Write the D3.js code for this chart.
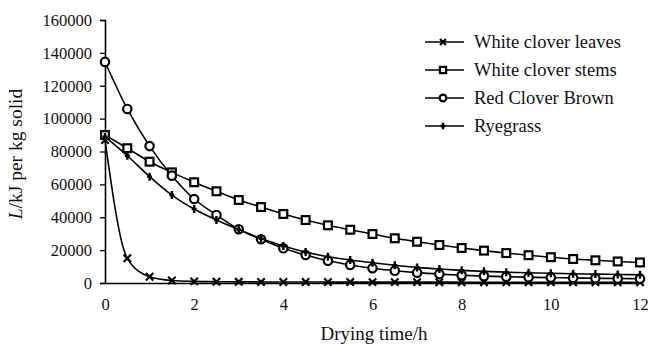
<!DOCTYPE html>
<html>
<head>
<meta charset="utf-8">
<script src="https://cdn.jsdelivr.net/npm/d3@7/dist/d3.min.js"></script>
<style>
  html, body { margin: 0; padding: 0; background: #fff; }
  svg { display: block; }
  svg text { font-family: "Liberation Serif", "Times New Roman", serif; }
</style>
</head>
<body>
<svg id="chart" width="651" height="345"></svg>
<script>
// Drying time (h), sampled every half hour
const hours = [0, 0.5, 1, 1.5, 2, 2.5, 3, 3.5, 4, 4.5, 5, 5.5, 6, 6.5, 7, 7.5, 8, 8.5, 9, 9.5, 10, 10.5, 11, 11.5, 12];

// Latent heat L (kJ per kg solid) for each material
const whiteCloverLeaves = [87000, 15000, 3800, 1500, 1000, 800, 700, 650, 600, 580, 560, 550, 540, 530, 520, 510, 500, 500, 500, 500, 500, 500, 500, 500, 500];
const whiteCloverStems = [90000, 82000, 73800, 67300, 61300, 55800, 50500, 46200, 42000, 38300, 35100, 32400, 29800, 27200, 25100, 23100, 21300, 19700, 18200, 16900, 15700, 14600, 13800, 13100, 12500];
const redCloverBrown = [134500, 105900, 83300, 65300, 51100, 41400, 32700, 26600, 21100, 17000, 13500, 11000, 9000, 7500, 6300, 5400, 4700, 4200, 3800, 3500, 3300, 3100, 2900, 2700, 2600];
const ryegrass = [89000, 77400, 64700, 53500, 45000, 38300, 32500, 27000, 22500, 18800, 16000, 14000, 12300, 10800, 9500, 8500, 7700, 7100, 6600, 6200, 5900, 5600, 5400, 5200, 5000];

const seriesNames = ["White clover leaves", "White clover stems", "Red Clover Brown", "Ryegrass"];
const seriesValues = [whiteCloverLeaves, whiteCloverStems, redCloverBrown, ryegrass];
const seriesMarkers = ["cross", "square", "circle", "plus"];

const xTicks = [0, 2, 4, 6, 8, 10, 12];
const yTicks = [0, 20000, 40000, 60000, 80000, 100000, 120000, 140000, 160000];

const svg = d3.select("#chart");
const x = d3.scaleLinear().domain([0, 12]).range([105, 640]);
const y = d3.scaleLinear().domain([0, 160000]).range([283, 20]);

// Axes
const yAxis = svg.append("g")
  .attr("transform", `translate(${x(0)},0)`)
  .call(d3.axisLeft(y).tickValues(yTicks).tickSize(5).tickPadding(8).tickFormat(d3.format("d")));
yAxis.select(".domain").attr("stroke", "#000").attr("stroke-width", 1.6);
yAxis.selectAll(".tick line").attr("stroke", "#000").attr("stroke-width", 1.3);
yAxis.selectAll("text").style("font-size", "16.5px").attr("fill", "#111");

const xAxis = svg.append("g")
  .attr("transform", `translate(0,${y(0)})`)
  .call(d3.axisBottom(x).tickValues(xTicks).tickSize(0).tickPadding(15).tickFormat(d3.format("d")));
xAxis.select(".domain").attr("stroke", "#000").attr("stroke-width", 1.6);
xAxis.selectAll("text").style("font-size", "16.5px").attr("fill", "#111");

// Axis titles
svg.append("text")
  .attr("x", 374).attr("y", 340)
  .attr("text-anchor", "middle")
  .style("font-size", "19px").attr("fill", "#111")
  .text("Drying time/h");

const yTitle = svg.append("text")
  .attr("transform", "translate(21.5,154) rotate(-90)")
  .attr("text-anchor", "middle")
  .style("font-size", "19.5px").attr("fill", "#111");
yTitle.append("tspan").attr("font-style", "italic").text("L");
yTitle.append("tspan").text("/kJ per kg solid");

// Marker drawing
function drawMarker(g, type, cx, cy, scale = 1) {
  if (type === "cross") {
    const s = 3.7 * scale;
    g.append("path")
      .attr("d", `M${cx - s},${cy - s}L${cx + s},${cy + s}M${cx - s},${cy + s}L${cx + s},${cy - s}`)
      .attr("stroke", "#000").attr("stroke-width", 2.2).attr("fill", "none");
  } else if (type === "square") {
    const s = 3.9 * scale;
    g.append("rect")
      .attr("x", cx - s).attr("y", cy - s).attr("width", 2 * s).attr("height", 2 * s)
      .attr("stroke", "#000").attr("stroke-width", 2.2).attr("fill", "#fff");
  } else if (type === "circle") {
    g.append("circle")
      .attr("cx", cx).attr("cy", cy).attr("r", 4.2 * scale)
      .attr("stroke", "#000").attr("stroke-width", 2.2).attr("fill", "#fff");
  } else if (type === "plus") {
    const s = 4 * scale;
    g.append("path")
      .attr("d", `M${cx},${cy - s}L${cx},${cy + s}M${cx - 2.5},${cy}L${cx + 2.5},${cy}`)
      .attr("stroke", "#000").attr("stroke-width", 2.4).attr("fill", "none");
  }
}

const line = d3.line()
  .x(d => x(d[0]))
  .y(d => y(d[1]))
  .curve(d3.curveMonotoneX);

// Draw series: lines then markers
seriesValues.forEach((vals, i) => {
  const pts = hours.map((h, j) => [h, vals[j]]);
  const g = svg.append("g");
  g.append("path")
    .attr("d", line(pts))
    .attr("fill", "none")
    .attr("stroke", "#000")
    .attr("stroke-width", 1.6);
  pts.forEach(p => drawMarker(g, seriesMarkers[i], x(p[0]), y(p[1])));
});

// Legend
const legend = svg.append("g");
seriesNames.forEach((name, i) => {
  const cy = 42 + i * 28;
  legend.append("line")
    .attr("x1", 425).attr("x2", 464).attr("y1", cy).attr("y2", cy)
    .attr("stroke", "#000").attr("stroke-width", 1.6);
  drawMarker(legend, seriesMarkers[i], 443, cy, 0.8);
  legend.append("text")
    .attr("x", 474).attr("y", cy + 6)
    .style("font-size", "18.5px").attr("fill", "#111")
    .text(name);
});
</script>
</body>
</html>
